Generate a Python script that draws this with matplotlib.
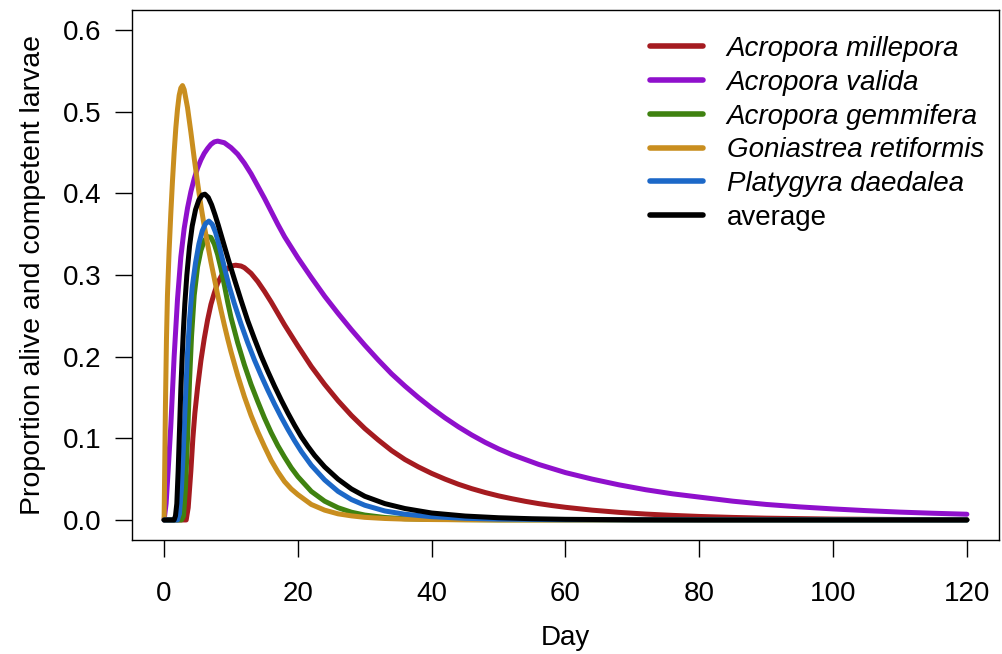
import matplotlib
matplotlib.use("Agg")
import matplotlib.pyplot as plt

plt.rcParams['font.family'] = ['Liberation Sans', 'DejaVu Sans']

# Proportion of larvae alive and competent, by day since spawning
mil_day = [0, 3.3, 3.6, 4, 4.3, 4.6, 5, 5.5, 6, 6.5, 7, 7.5, 8, 8.5, 9, 9.5, 10,
           10.7, 11.5, 12, 13, 14, 15, 16, 17, 18, 19, 20, 22, 24, 26, 28, 30, 32,
           34, 36, 38, 40, 42, 44, 46, 48, 50, 52, 54, 56, 58, 60, 64, 68, 72, 76,
           80, 85, 90, 100, 110, 120]
mil_val = [0, 0, 0.015, 0.06, 0.1, 0.131, 0.162, 0.195, 0.222, 0.245, 0.264, 0.278,
           0.29, 0.298, 0.304, 0.308, 0.311, 0.312, 0.311, 0.309, 0.302, 0.292, 0.28,
           0.267, 0.253, 0.239, 0.226, 0.213, 0.188, 0.166, 0.146, 0.128, 0.112,
           0.098, 0.085, 0.074, 0.065, 0.057, 0.05, 0.0437, 0.0383, 0.0336, 0.0295,
           0.026, 0.0228, 0.02, 0.0176, 0.0155, 0.012, 0.0093, 0.0072, 0.0056,
           0.0043, 0.0031, 0.0022, 0.0011, 0.0006, 0.0003]

val_day = [0, 0.3, 0.6, 1, 1.5, 2, 2.5, 3, 3.5, 4, 4.5, 5, 5.5, 6, 6.5, 7, 7.5, 8, 9,
           10, 11, 12, 13, 14, 15, 16, 17, 18, 19, 20, 22, 24, 26, 28, 30, 32, 34,
           36, 38, 40, 42, 44, 46, 48, 50, 52, 54, 56, 58, 60, 64, 68, 72, 76, 80,
           85, 90, 95, 100, 105, 110, 115, 120]
val_val = [0, 0.02, 0.06, 0.115, 0.2, 0.27, 0.322, 0.357, 0.382, 0.402, 0.418,
           0.431, 0.441, 0.449, 0.455, 0.46, 0.463, 0.464, 0.462, 0.456, 0.448, 0.437,
           0.424, 0.409, 0.394, 0.378, 0.362, 0.347, 0.334, 0.321, 0.297, 0.274,
           0.253, 0.233, 0.214, 0.196, 0.179, 0.164, 0.15, 0.137, 0.125, 0.114,
           0.104, 0.095, 0.087, 0.08, 0.074, 0.068, 0.063, 0.058, 0.05, 0.043,
           0.037, 0.032, 0.028, 0.023, 0.019, 0.016, 0.0135, 0.0114, 0.0096,
           0.0082, 0.007]

gem_day = [0, 2.6, 2.9, 3.2, 3.5, 3.8, 4.1, 4.5, 5, 5.5, 6, 6.5, 7, 7.5, 8, 8.5, 9,
           9.5, 10, 11, 12, 13, 14, 15, 16, 17, 18, 19, 20, 22, 24, 26, 28, 30, 33,
           36, 40, 50, 120]
gem_val = [0, 0, 0.005, 0.04, 0.1, 0.17, 0.225, 0.275, 0.31, 0.33, 0.342, 0.347,
           0.346, 0.338, 0.325, 0.308, 0.288, 0.267, 0.248, 0.217, 0.19, 0.166,
           0.145, 0.125, 0.107, 0.091, 0.077, 0.064, 0.053, 0.035, 0.023, 0.015,
           0.0095, 0.006, 0.003, 0.0015, 0.0007, 0.0001, 0]

gon_day = [0, 0.1, 0.2, 0.35, 0.5, 0.75, 1, 1.25, 1.5, 1.75, 2, 2.25, 2.5, 2.75, 3,
           3.5, 4, 4.5, 5, 5.5, 6, 6.5, 7, 7.5, 8, 8.5, 9, 9.5, 10, 11, 12, 13, 14,
           15, 16, 17, 18, 19, 20, 22, 24, 26, 28, 30, 33, 36, 40, 45, 50, 120]
gon_val = [0, 0.07, 0.14, 0.22, 0.275, 0.33, 0.375, 0.415, 0.45, 0.48, 0.503, 0.52,
           0.529, 0.532, 0.527, 0.505, 0.475, 0.443, 0.413, 0.385, 0.36, 0.338, 0.316,
           0.296, 0.276, 0.257, 0.239, 0.222, 0.206, 0.177, 0.151, 0.128, 0.108,
           0.09, 0.073, 0.059, 0.047, 0.038, 0.031, 0.019, 0.012, 0.0075, 0.005,
           0.0032, 0.0018, 0.001, 0.0005, 0.0002, 0, 0]

pla_day = [0, 2.0, 2.3, 2.6, 2.9, 3.2, 3.5, 3.8, 4.2, 4.7, 5.2, 5.7, 6.2, 6.7, 7.2,
           7.7, 8.2, 8.7, 9.2, 9.7, 10.5, 11.5, 12.5, 13.5, 14.5, 15.5, 16.5, 17.5,
           18.5, 19.5, 20.5, 22, 24, 26, 28, 30, 33, 36, 40, 45, 50, 60, 70, 120]
pla_val = [0, 0, 0.008, 0.04, 0.09, 0.15, 0.205, 0.245, 0.285, 0.315, 0.338, 0.354,
           0.363, 0.366, 0.362, 0.352, 0.337, 0.32, 0.303, 0.287, 0.265, 0.24,
           0.217, 0.196, 0.177, 0.159, 0.142, 0.126, 0.111, 0.097, 0.084, 0.067,
           0.049, 0.035, 0.025, 0.018, 0.011, 0.007, 0.004, 0.002, 0.001, 0.0003,
           0.0001, 0]

avg_day = [0, 1.5, 1.7, 1.9, 2.1, 2.3, 2.5, 2.7, 2.9, 3.1, 3.4, 3.8, 4.2, 4.7, 5.2,
           5.7, 6.1, 6.6, 7.1, 7.6, 8.1, 8.6, 9.1, 9.6, 10.5, 11.5, 12.5, 13.5, 14.5,
           15.5, 16.5, 17.5, 18.5, 19.5, 20.5, 21.5, 22.5, 24, 26, 28, 30, 33, 36,
           40, 45, 50, 55, 60, 70, 80, 120]
avg_val = [0, 0, 0.005, 0.02, 0.06, 0.11, 0.16, 0.2, 0.235, 0.265, 0.3, 0.335, 0.36,
           0.38, 0.392, 0.398, 0.399, 0.395, 0.386, 0.374, 0.361, 0.347, 0.333,
           0.319, 0.295, 0.269, 0.244, 0.222, 0.201, 0.182, 0.164, 0.147, 0.131,
           0.116, 0.102, 0.09, 0.079, 0.065, 0.05, 0.038, 0.029, 0.02, 0.014,
           0.0085, 0.0048, 0.0027, 0.0015, 0.0008, 0.0002, 0, 0]

series = [
    (mil_day, mil_val, '#a51b20', 'Acropora millepora'),
    (val_day, val_val, '#8f10cc', 'Acropora valida'),
    (gem_day, gem_val, '#3f8210', 'Acropora gemmifera'),
    (gon_day, gon_val, '#c98e1f', 'Goniastrea retiformis'),
    (pla_day, pla_val, '#1c68c8', 'Platygyra daedalea'),
    (avg_day, avg_val, '#000000', 'average'),
]

fig = plt.figure(figsize=(10.03, 6.54), dpi=100)
ax = fig.add_axes([0.1316, 0.175, 0.8644, 0.809])

for days, vals, col, name in series:
    ax.plot(days, vals, color=col, lw=3.6, label=name,
            solid_capstyle='round', solid_joinstyle='round')

ax.set_xlim(-4.8, 124.8)
ax.set_ylim(-0.024, 0.624)
ax.set_xticks([0, 20, 40, 60, 80, 100, 120])
ax.set_yticks([0.0, 0.1, 0.2, 0.3, 0.4, 0.5, 0.6])
ax.set_yticklabels(['0.0', '0.1', '0.2', '0.3', '0.4', '0.5', '0.6'])
ax.tick_params(axis='both', length=12, width=1.0, labelsize=20, direction='out')
ax.tick_params(axis='x', pad=18)
ax.tick_params(axis='y', pad=10)
for s in ax.spines.values():
    s.set_linewidth(1.0)

ax.set_xlabel('Day', fontsize=20, labelpad=13)
ax.set_ylabel('Proportion alive and competent larvae', fontsize=20.5, labelpad=12)

# legend without a frame, species names in italics
leg = ax.legend(loc='upper left', bbox_to_anchor=(650 / 1003, 1 - 36 / 654),
                bbox_transform=fig.transFigure, frameon=False,
                fontsize=20, handlelength=1.9, handletextpad=0.86,
                labelspacing=0.28, borderaxespad=0, borderpad=0)
for t in leg.get_texts()[:-1]:
    t.set_style('italic')
for h in leg.get_lines():
    h.set_linewidth(4.0)

fig.savefig('out.png', dpi=100)
